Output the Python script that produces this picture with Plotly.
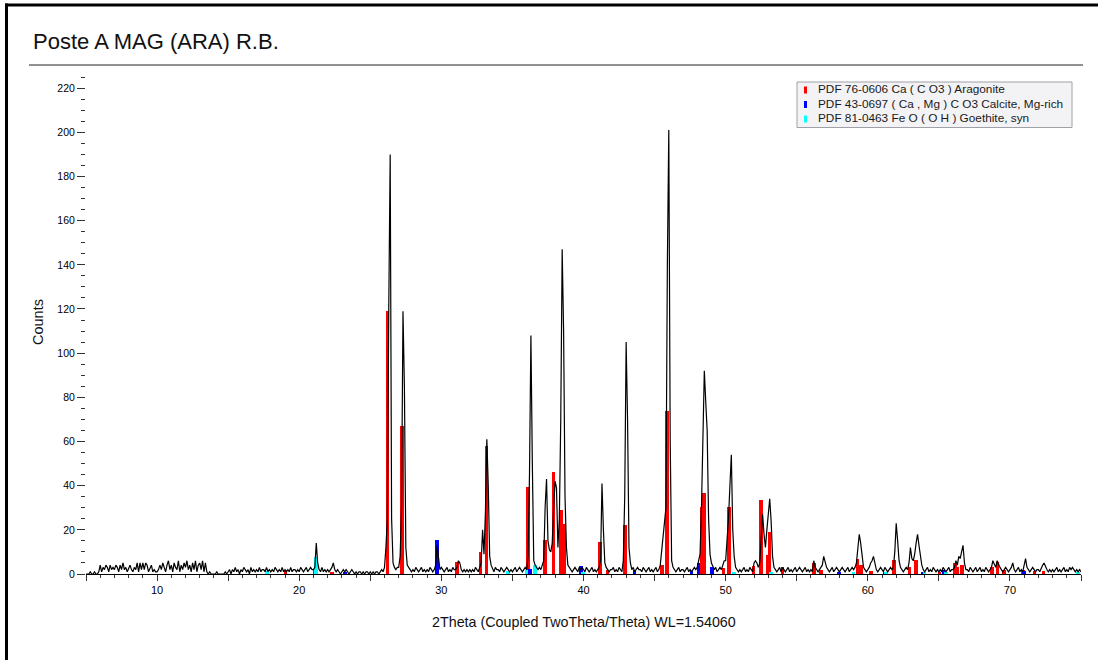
import plotly.graph_objects as go

# ---------------- data ----------------
TWO_THETA_START = 5.0
TWO_THETA_STEP = 0.1

# measured counts, one row per degree (x.0 ... x.9)
counts_05_20 = [
    0, 0, 0, 1, 0, 0, 1, 0, 0, 1,       # 5
    4, 1, 3, 2, 4, 3, 1, 4, 2, 3,       # 6
    2, 4, 3, 1, 4, 2, 5, 2, 3, 1,       # 7
    3, 4, 2, 1, 3, 2, 5, 1, 5, 2,       # 8
    5, 2, 5, 4, 1, 3, 4, 1, 2, 1,       # 9
    1, 2, 4, 2, 5, 3, 1, 4, 6, 2,       # 10
    4, 1, 5, 3, 2, 6, 1, 4, 2, 5,       # 11
    3, 6, 2, 4, 1, 5, 2, 6, 1, 4,       # 12
    5, 2, 6, 1, 5, 1, 0, 1, 0, 0,       # 13
    0, 0, 1, 0, 0, 0, 0, 0, 1, 0,       # 14
    1, 2, 0, 2, 1, 3, 1, 2, 0, 2,       # 15
    1, 3, 2, 1, 2, 0, 3, 1, 2, 1,       # 16
    2, 1, 3, 1, 2, 2, 1, 3, 1, 2,       # 17
    1, 2, 1, 3, 2, 1, 2, 1, 3, 1,       # 18
    2, 1, 2, 1, 3, 1, 2, 2, 1, 2,       # 19
]
counts_20_35 = [
    1, 3, 2, 1, 2, 3, 1, 2, 3, 2,       # 20
    2, 3, 14, 5, 2, 1, 3, 1, 2, 1,      # 21
    2, 1, 2, 3, 5, 2, 1, 2, 1, 0,       # 22
    1, 2, 1, 2, 1, 0, 1, 2, 1, 0,       # 23
    1, 0, 1, 1, 0, 1, 0, 1, 1, 0,       # 24
    1, 0, 1, 0, 1, 1, 0, 1, 2, 1,       # 25
    3, 12, 25, 120, 190, 25, 5, 3, 2, 3,  # 26
    3, 8, 30, 119, 85, 12, 4, 3, 2, 1,  # 27
    2, 1, 3, 2, 1, 2, 3, 1, 2, 1,       # 28
    2, 1, 3, 2, 1, 2, 4, 13, 6, 2,      # 29
    3, 2, 1, 2, 3, 1, 2, 1, 3, 2,       # 30
    2, 3, 6, 5, 2, 1, 2, 1, 2, 1,       # 31
    2, 1, 2, 1, 3, 2, 1, 3, 5, 20,      # 32
    9, 28, 61, 40, 8, 4, 2, 1, 3, 2,    # 33
    2, 1, 3, 2, 1, 2, 3, 2, 1, 2,       # 34
]
counts_35_50 = [
    1, 2, 3, 1, 2, 3, 2, 1, 2, 3,       # 35
    2, 8, 45, 108, 50, 6, 4, 3, 2, 3,   # 36
    2, 4, 6, 30, 43, 15, 11, 10, 14, 30,  # 37
    42, 39, 12, 25, 70, 147, 110, 35, 12, 4,  # 38
    3, 2, 1, 2, 3, 2, 1, 3, 2, 3,       # 39
    2, 1, 3, 2, 1, 2, 3, 1, 2, 1,       # 40
    2, 3, 6, 41, 20, 5, 3, 2, 1, 2,     # 41
    2, 3, 1, 2, 1, 3, 2, 1, 6, 35,      # 42
    105, 70, 12, 5, 2, 3, 1, 2, 3, 2,   # 43
    2, 1, 3, 2, 1, 2, 3, 1, 2, 1,       # 44
    2, 3, 1, 2, 4, 10, 18, 21, 30, 140,  # 45
    201, 60, 6, 3, 2, 1, 2, 3, 1, 2,    # 46
    2, 1, 2, 3, 1, 2, 1, 2, 3, 2,       # 47
    3, 6, 9, 30, 60, 92, 78, 65, 25, 9,  # 48
    5, 3, 2, 3, 1, 2, 3, 2, 4, 6,       # 49
]
counts_50_65 = [
    6, 15, 25, 40, 54, 20, 8, 3, 2, 1,  # 50
    2, 1, 2, 3, 1, 2, 1, 3, 2, 1,       # 51
    5, 6, 5, 3, 5, 15, 27, 18, 12, 20,  # 52
    28, 34, 24, 8, 3, 2, 1, 2, 3, 1,    # 53
    3, 2, 1, 2, 3, 1, 2, 1, 2, 3,       # 54
    1, 2, 3, 2, 1, 2, 3, 1, 2, 1,       # 55
    2, 1, 6, 3, 2, 1, 2, 3, 4, 8,       # 56
    5, 3, 2, 1, 2, 3, 1, 2, 3, 2,       # 57
    1, 2, 3, 2, 1, 2, 3, 1, 2, 3,       # 58
    2, 3, 5, 12, 18, 14, 8, 3, 2, 1,    # 59
    2, 3, 5, 6, 8, 4, 2, 1, 2, 3,       # 60
    2, 1, 3, 2, 1, 2, 3, 2, 3, 10,      # 61
    23, 15, 6, 3, 2, 1, 2, 3, 2, 5,     # 62
    12, 7, 6, 9, 14, 18, 13, 8, 4, 2,   # 63
    1, 2, 3, 1, 2, 1, 3, 2, 1, 2,       # 64
]
counts_65_75 = [
    1, 2, 1, 3, 2, 1, 2, 3, 1, 2,       # 65
    2, 3, 6, 4, 8, 7, 10, 13, 5, 2,     # 66
    2, 1, 3, 2, 1, 2, 3, 1, 2, 3,       # 67
    1, 2, 1, 3, 2, 1, 2, 3, 6, 4,       # 68
    3, 6, 4, 3, 2, 1, 2, 3, 2, 1,       # 69
    2, 3, 5, 2, 1, 2, 3, 1, 2, 1,       # 70
    4, 7, 3, 2, 1, 2, 3, 2, 1, 2,       # 71
    2, 1, 3, 4, 5, 3, 2, 1, 2, 1,       # 72
    2, 1, 2, 3, 1, 2, 1, 2, 3, 1,       # 73
    2, 1, 3, 2, 3, 2, 1, 2, 1, 2,       # 74
    1,                                  # 75
]

# reference patterns (stick positions / intensities)
aragonite_pos = [19.02, 21.06, 22.30, 26.22, 27.23, 31.10, 32.74, 33.16, 36.09, 37.31,
                 37.89, 38.43, 38.64, 41.17, 41.70, 42.91, 45.53, 45.86, 48.33, 48.47,
                 49.85, 50.25, 51.96, 52.50, 52.97, 53.08, 54.00, 56.22, 56.70, 59.27,
                 59.51, 60.23, 61.85, 62.93, 63.40, 65.04, 66.14, 66.26, 66.61, 68.72,
                 69.14, 69.60, 70.90, 71.74, 72.35]
aragonite_int = [2, 2, 1, 119, 67, 5.6, 9.8, 58, 39.5, 15.4,
                 46, 29, 22.6, 14.6, 2, 22, 4, 74, 30.5, 36.5,
                 2.9, 30.5, 3.8, 33.5, 8.6, 18.9, 3.3, 4.9, 2, 6.8,
                 4.1, 1.5, 6.3, 3.3, 6.3, 1, 5.1, 3, 4.1, 3.3,
                 5.6, 2, 1.8, 1.5, 1.5]
calcite_pos = [23.24, 29.69, 36.25, 39.83, 43.59, 47.59, 48.09, 49.03, 57.98, 61.22, 63.86, 65.32, 70.99]
calcite_int = [0.8, 15.4, 2.1, 3.5, 2.0, 1.2, 5.0, 3.0, 1.0, 1.0, 1.0, 1.8, 1.5]
goethite_pos = [17.73, 21.18, 34.70, 36.00, 36.60, 39.98, 50.60, 53.20, 59.00, 61.30, 64.00, 65.50, 74.80]
goethite_int = [1.5, 7.5, 1.2, 1.8, 4.1, 1.0, 1.0, 1.0, 1.0, 1.0, 0.8, 1.0, 1.0]

legend_labels = ["PDF 76-0606 Ca ( C O3 ) Aragonite",
                 "PDF 43-0697 ( Ca , Mg ) C O3 Calcite, Mg-rich",
                 "PDF 81-0463 Fe O ( O H ) Goethite, syn"]
legend_colors = ["#ff0000", "#0000ff", "#00ffff"]

title_text = "Poste A MAG (ARA) R.B."
x_title = "2Theta (Coupled TwoTheta/Theta) WL=1.54060"
y_title = "Counts"
x_ticks = [5, 10, 15, 20, 25, 30, 35, 40, 45, 50, 55, 60, 65, 70, 75]
x_ticktext = ["", "10", "", "20", "", "30", "", "40", "", "50", "", "60", "", "70", ""]
y_ticks = [0, 20, 40, 60, 80, 100, 120, 140, 160, 180, 200, 220]

# ---------------- figure ----------------
counts = counts_05_20 + counts_20_35 + counts_35_50 + counts_50_65 + counts_65_75
two_theta = [round(TWO_THETA_START + TWO_THETA_STEP * i, 2) for i in range(len(counts))]

FONT = "Liberation Sans, Arial, sans-serif"
W, H = 1098, 660
ML, MR, MT, MB = 86, 17, 76, 86
PW, PH = W - ML - MR, H - MT - MB


def px(x):
    return (x - ML) / PW


def py(y):
    return (H - MB - y) / PH


fig = go.Figure()
for pos, inten, col in [(aragonite_pos, aragonite_int, legend_colors[0]),
                        (calcite_pos, calcite_int, legend_colors[1]),
                        (goethite_pos, goethite_int, legend_colors[2])]:
    fig.add_trace(go.Bar(x=pos, y=inten, width=0.25, marker=dict(color=col, line=dict(width=0)),
                         showlegend=False, hoverinfo="x+y"))

fig.add_trace(go.Scatter(x=two_theta, y=counts, mode="lines",
                         line=dict(color="black", width=1.2), showlegend=False))

shapes = []
annotations = []
# frame (left and top)
shapes.append(dict(type="line", xref="paper", yref="paper", x0=px(6.5), x1=px(6.5), y0=py(3.5), y1=py(H + 5),
                   line=dict(color="black", width=3)))
shapes.append(dict(type="line", xref="paper", yref="paper", x0=px(5), x1=px(W + 5), y0=py(5), y1=py(5),
                   line=dict(color="black", width=3)))
# rule under title
shapes.append(dict(type="line", xref="paper", yref="paper", x0=px(29), x1=px(1083), y0=py(65), y1=py(65),
                   line=dict(color="#222222", width=1)))
# legend box
shapes.append(dict(type="rect", xref="paper", yref="paper", x0=px(797), x1=px(1072), y0=py(127.5), y1=py(82),
                   line=dict(color="#a0a0a8", width=1), fillcolor="#f3f3f5", layer="above"))
row_y = [89, 103.5, 118]
for i, (lab, col) in enumerate(zip(legend_labels, legend_colors)):
    yc = row_y[i] + 1
    shapes.append(dict(type="rect", xref="paper", yref="paper", x0=px(804), x1=px(807), y0=py(yc + 3.5),
                       y1=py(yc - 3.5), line=dict(width=0), fillcolor=col, layer="above"))
    annotations.append(dict(text=lab, xref="paper", yref="paper", x=px(816), y=py(row_y[i]), xanchor="left",
                            yanchor="middle", showarrow=False, font=dict(family=FONT, size=11.8, color="#1a1a1a")))

annotations.append(dict(text=title_text, xref="paper", yref="paper", x=px(31), y=py(41), xanchor="left",
                        yanchor="middle", showarrow=False, font=dict(family=FONT, size=22, color="#111111")))
annotations.append(dict(text=x_title, xref="paper", yref="paper", x=px(583.5), y=py(622), xanchor="center",
                        yanchor="middle", showarrow=False, font=dict(family=FONT, size=14.3, color="#111111")))
annotations.append(dict(text=y_title, xref="paper", yref="paper", x=px(38), y=py(322), xanchor="center",
                        yanchor="middle", textangle=-90, showarrow=False,
                        font=dict(family=FONT, size=14.5, color="#111111")))

fig.update_layout(
    width=W, height=H,
    margin=dict(l=ML, r=MR, t=MT, b=MB, pad=0),
    paper_bgcolor="white", plot_bgcolor="white",
    barmode="overlay", bargap=0,
    showlegend=False,
    shapes=shapes, annotations=annotations,
    font=dict(family=FONT, size=10, color="#111111"),
)
fig.update_xaxes(range=[5, 75], showgrid=False, zeroline=False,
                 showline=True, linecolor="black", linewidth=1,
                 ticks="outside", ticklen=6, tickwidth=1, tickcolor="#333333",
                 tickmode="array", tickvals=x_ticks, ticktext=x_ticktext,
                 tickfont=dict(family=FONT, size=11, color="#000000"),
                 minor=dict(dtick=1, ticks="outside", ticklen=3, tickwidth=1, tickcolor="#333333", showgrid=False))
fig.update_yaxes(range=[0, 225.5], showgrid=False, zeroline=False, showline=False,
                 ticks="outside", ticklen=8, tickwidth=1, tickcolor="#333333",
                 tickmode="array", tickvals=y_ticks,
                 tickfont=dict(family=FONT, size=10.5, color="#000000"),
                 minor=dict(dtick=5, tick0=0, ticks="outside", ticklen=4, tickwidth=1, tickcolor="#333333",
                            showgrid=False))

fig.write_html("out.html", config={"displayModeBar": False},
               post_script="document.body.style.margin='0px';")
